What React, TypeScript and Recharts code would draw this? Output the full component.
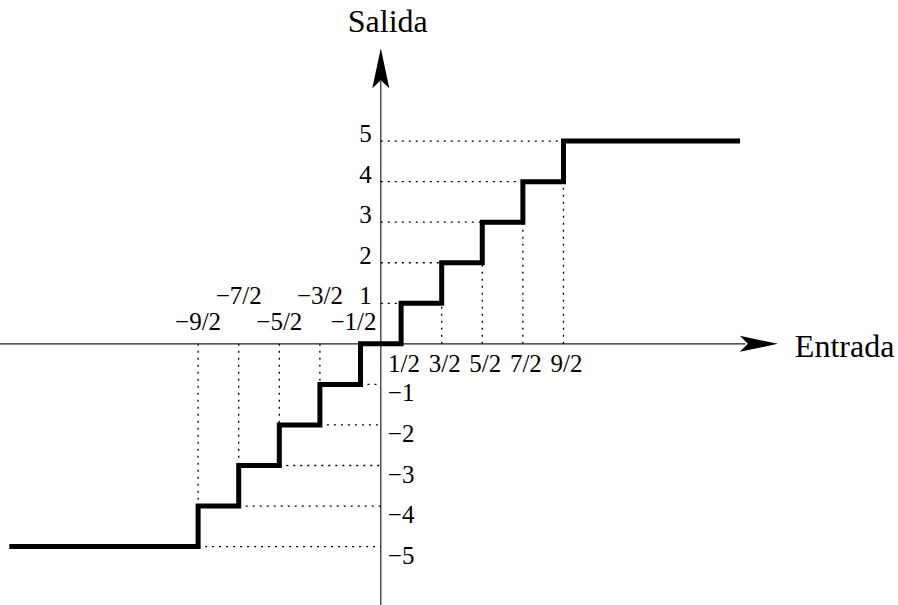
import React from 'react';
import { LineChart, Line, XAxis, YAxis, ReferenceLine, ReferenceDot } from 'recharts';

// step edges (input thresholds) and output levels
const stepEdges = [-4.5, -3.5, -2.5, -1.5, -0.5, 0.5, 1.5, 2.5, 3.5, 4.5];
const levels = [-5, -4, -3, -2, -1, 0, 1, 2, 3, 4, 5];
const edgeLabels = ['−9/2', '−7/2', '−5/2', '−3/2', '−1/2', '1/2', '3/2', '5/2', '7/2', '9/2'];
const levelLabels = ['−5', '−4', '−3', '−2', '−1', '', '1', '2', '3', '4', '5'];
const lineStart = -9.15;
const lineEnd = 8.85;

const xDomain = [-9.38, 12.74];
const yDomain = [-6.44, 8.48];
const xArrowTip = 9.78;
const yArrowTip = 7.29;

const FONT = '"Liberation Serif", "Times New Roman", serif';

const stairData = [
  { x: lineStart, y: levels[0] },
  ...stepEdges.map((e, i) => ({ x: e, y: levels[i + 1] })),
  { x: lineEnd, y: levels[levels.length - 1] },
];

const dotted = { stroke: '#000', strokeWidth: 1.3, strokeDasharray: '2 5' };

const textShape = (text: string, dx: number, dy: number, anchor: string, size = 25) => (props: any) => (
  <text
    x={props.cx + dx}
    y={props.cy + dy}
    textAnchor={anchor}
    fontFamily={FONT}
    fontSize={size}
    fill="#000"
  >
    {text}
  </text>
);

const arrowRight = (props: any) => {
  const { cx, cy } = props;
  return <path d={`M${cx},${cy} L${cx - 38},${cy - 8} L${cx - 30},${cy} L${cx - 38},${cy + 8} Z`} fill="#000" />;
};

const arrowUp = (props: any) => {
  const { cx, cy } = props;
  return <path d={`M${cx},${cy} L${cx - 8.5},${cy + 40} L${cx},${cy + 32} L${cx + 8.5},${cy + 40} Z`} fill="#000" />;
};

export default function App() {
  return (
    <div style={{ position: 'absolute', left: 0, top: 0 }}>
      <LineChart width={898} height={605} data={stairData} margin={{ top: 0, right: 0, bottom: 0, left: 0 }}>
        <XAxis dataKey="x" type="number" domain={xDomain} allowDataOverflow hide />
        <YAxis type="number" domain={yDomain} allowDataOverflow hide />

        {/* axes */}
        <ReferenceLine segment={[{ x: xDomain[0], y: 0 }, { x: xArrowTip - 0.8, y: 0 }]} stroke="#222" strokeWidth={1.2} />
        <ReferenceLine segment={[{ x: 0, y: yDomain[0] }, { x: 0, y: yArrowTip - 0.8 }]} stroke="#222" strokeWidth={1.2} />
        <ReferenceDot x={xArrowTip} y={0} shape={arrowRight} />
        <ReferenceDot x={0} y={yArrowTip} shape={arrowUp} />

        {/* dotted guides */}
        {stepEdges.map((e) =>
          e > 1 ? (
            <ReferenceLine key={`v${e}`} segment={[{ x: e, y: 0 }, { x: e, y: e - 0.5 }]} {...dotted} />
          ) : e < -1 ? (
            <ReferenceLine key={`v${e}`} segment={[{ x: e, y: 0 }, { x: e, y: e + 0.5 }]} {...dotted} />
          ) : null
        )}
        {levels.map((k) =>
          k > 0 ? (
            <ReferenceLine key={`h${k}`} segment={[{ x: 0, y: k }, { x: k - 0.5, y: k }]} {...dotted} />
          ) : k < 0 ? (
            <ReferenceLine key={`h${k}`} segment={[{ x: k + 0.5, y: k }, { x: 0, y: k }]} {...dotted} />
          ) : null
        )}

        <Line
          type="stepAfter"
          dataKey="y"
          stroke="#000"
          strokeWidth={5}
          dot={false}
          activeDot={false}
          isAnimationActive={false}
          strokeLinejoin="miter"
        />

        {/* edge labels */}
        {stepEdges.map((e, i) => {
          let dx = 0;
          let dy = 28;
          if (e < 0) {
            const upper = i % 2 === 1;
            dy = upper ? -40 : -14;
            if (e === -0.5) dx = -7;
          } else {
            dx = 3;
          }
          return <ReferenceDot key={`xl${i}`} x={e} y={0} shape={textShape(edgeLabels[i], dx, dy, 'middle')} />;
        })}

        {/* level labels */}
        {levels.map((k, i) =>
          k === 0 ? null : k > 0 ? (
            <ReferenceDot key={`yl${i}`} x={0} y={k} shape={textShape(levelLabels[i], -9, 1, 'end')} />
          ) : (
            <ReferenceDot key={`yl${i}`} x={0} y={k} shape={textShape(levelLabels[i], 7, 17, 'start')} />
          )
        )}

        {/* axis titles */}
        <ReferenceDot x={0} y={yArrowTip} shape={textShape('Salida', 7, -16, 'middle', 32)} />
        <ReferenceDot x={xArrowTip} y={0} shape={textShape('Entrada', 17, 13, 'start', 32)} />
      </LineChart>
    </div>
  );
}
